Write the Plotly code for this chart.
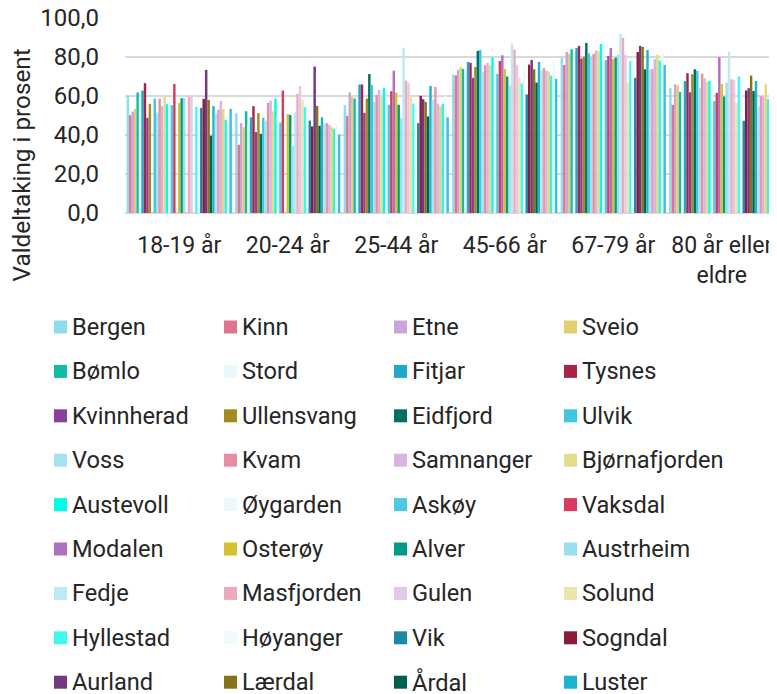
import plotly.graph_objects as go

categories = ["18-19 år", "20-24 år", "25-44 år", "45-66 år", "67-79 år", "80 år eller<br>eldre"]

municipalities = [
    "Bergen", "Kinn", "Etne", "Sveio", "Bømlo", "Stord", "Fitjar", "Tysnes",
    "Kvinnherad", "Ullensvang", "Eidfjord", "Ulvik", "Voss", "Kvam", "Samnanger",
    "Bjørnafjorden", "Austevoll", "Øygarden", "Askøy", "Vaksdal", "Modalen",
    "Osterøy", "Alver", "Austrheim", "Fedje", "Masfjorden", "Gulen", "Solund",
    "Hyllestad", "Høyanger", "Vik", "Sogndal", "Aurland", "Lærdal", "Årdal",
    "Luster", "Askvoll", "Fjaler", "Sunnfjord", "Bremanger", "Stad", "Gloppen", "Stryn",
]

colors = [
    "#8ddbeb", "#e07590", "#cba4d8", "#e0d070", "#12bba8", "#e8f8fb", "#1fa8c9", "#a82447",
    "#8a3f9a", "#a08c20", "#007060", "#42c6e0", "#a3e3ef", "#e88ea2", "#d8b4de",
    "#e4dc8c", "#00fde6", "#eef8fc", "#4fc8e4", "#d83b60", "#b070c0",
    "#d4c030", "#009a88", "#98e0ec", "#bbe9f4", "#eeaabb", "#e2c9e6", "#ece4a8",
    "#40f8ec", "#f0f9fc", "#1e88a8", "#8a1c3a", "#743880", "#857418", "#006050",
    "#1eb4d0", "#b0e6f0", "#e898ac", "#d6b6e0", "#e6d680", "#30f4e4", "#eef8fa", "#38c0e0",
]

v_18_19 = [60.1, 50.2, 52.0, 53.4, 61.8, 58.0, 62.8, 66.6, 48.8, 56.0, None, 58.7, 51.5, 58.7, 54.9,
           59.7, 55.8, 57.0, 55.3, 66.2, None, 56.5, 58.9, 58.9, None, 59.7, 59.7, None,
           54.4, 54.0, 53.9, 58.5, 73.4, 58.0, 39.6, 54.8, 51.2, 52.9, 57.5, 53.4, 47.8, 50.0, 53.4]
v_20_24 = [51.2, 35.0, 46.1, 44.0, 52.2, 45.0, 49.1, 54.8, 41.5, 51.2, 40.6, 48.8, 47.3, 56.5, 57.7,
           52.2, 58.5, 50.0, 46.4, 62.8, None, 50.7, 50.3, 34.5, 51.7, 61.1, 65.2, 58.2,
           54.3, 50.0, 47.4, 44.4, 75.1, 54.9, 44.7, 49.1, 46.0, 46.1, 45.2, 44.0, 43.2, 45.6, 40.1]
v_25_44 = [55.3, 49.8, 61.9, 59.4, 58.7, 58.0, 65.9, 65.9, 51.4, 58.7, 71.3, 65.7, 57.0, 60.6, 63.1,
           59.2, 64.0, 60.0, 55.5, 62.5, 73.0, 61.8, 55.5, 48.6, 84.8, 67.9, 66.6, 60.1,
           56.1, 58.4, 46.1, 60.1, 58.4, 57.0, 49.5, 65.2, 58.0, 64.7, 56.1, 54.8, 56.0, 60.4, 49.1]
v_45_66 = [71.0, 70.6, 73.4, 74.9, 73.9, 74.0, 77.5, 77.0, 69.3, 74.9, 83.1, 83.6, 72.2, 75.8, 77.0,
           75.8, 79.7, 75.0, 71.3, 78.0, 80.9, 73.9, 70.0, 65.4, 86.9, 83.8, 75.9, 69.3,
           66.4, 75.9, 60.8, 76.1, 78.5, 73.7, 66.9, 77.5, 73.0, 74.4, 72.9, 72.5, 70.5, 78.5, 68.8]
v_67_79 = [79.7, 75.9, 82.6, 81.7, 84.0, 82.0, 84.6, 85.7, 79.2, 80.2, 87.2, 81.9, 80.2, 81.6, 83.3,
           82.9, 86.7, 82.0, 78.5, 80.5, 84.6, 79.0, 79.7, 81.1, 91.8, 89.8, 81.1, 66.9,
           77.8, 80.0, 69.3, 82.6, 85.7, 85.2, 73.7, 83.6, 73.7, 73.9, 79.0, 81.1, 78.2, 81.9, 75.9]
v_80_plus = [64.0, 55.5, 66.0, 65.4, 62.1, 66.9, 67.7, 71.7, 61.9, 71.2, 73.7, 72.9, 64.2, 71.5, 69.1,
             67.2, 67.7, 66.0, 57.5, 61.6, 79.9, 66.2, 59.7, 66.7, 82.8, 68.6, 68.1, 56.5,
             70.0, 63.8, 47.3, 62.8, 64.0, 70.5, 62.6, 67.7, 54.6, 59.9, 59.7, 66.2, 58.5, 65.5, 62.8]

y_ticks = [0, 20, 40, 60, 80, 100]
y_title = "Valdeltaking i prosent"

groups = [v_18_19, v_20_24, v_25_44, v_45_66, v_67_79, v_80_plus]

FONT = "Roboto, 'Noto Sans', sans-serif"
TXT = "#262626"
# the page adds an 8px body margin, so the figure is sized/offset to compensate
W, H = 769, 686
ML, MR, MT, MB = 117, 1, 10, 481
PW = W - ML - MR
PH = H - MT - MB


def px_x(x):
    return (x - ML) / PW


def px_y(y):
    return (MT + PH - y) / PH


fig = go.Figure()
for i, name in enumerate(municipalities):
    fig.add_trace(go.Bar(
        x=categories,
        y=[g[i] for g in groups],
        name=name,
        marker=dict(color=colors[i], line=dict(width=0)),
        showlegend=False,
    ))

# legend drawn below the plot (4 columns, clipped like the reference after 9 rows)
n_cols, n_rows = 4, 9
shapes, annotations = [], []
for k in range(min(len(municipalities), n_cols * n_rows)):
    r, c = divmod(k, n_cols)
    cy = 319 + 44.4 * r
    sx = 46 + 170 * c
    shapes.append(dict(type="rect", xref="paper", yref="paper",
                       x0=px_x(sx), x1=px_x(sx + 13), y0=px_y(cy + 6.5), y1=px_y(cy - 6.5),
                       fillcolor=colors[k], line=dict(width=0), layer="above"))
    annotations.append(dict(xref="paper", yref="paper", x=px_x(sx + 16), y=px_y(cy),
                            text=municipalities[k], showarrow=False,
                            xanchor="left", yanchor="middle",
                            font=dict(family=FONT, size=23.6, color=TXT)))

# y-axis title (placed like the reference, lower than the plot middle)
annotations.append(dict(xref="paper", yref="paper", x=px_x(13), y=px_y(276),
                        text=y_title, textangle=-90, showarrow=False,
                        xanchor="center", yanchor="bottom",
                        font=dict(family=FONT, size=24.3, color=TXT)))

fig.update_layout(
    width=W, height=H,
    margin=dict(l=ML, r=MR, t=MT, b=MB, autoexpand=False),
    paper_bgcolor="white", plot_bgcolor="white",
    barmode="group", bargap=0.03, bargroupgap=0,
    separators=", ",
    font=dict(family=FONT, color=TXT),
    showlegend=False,
    shapes=shapes,
    annotations=annotations,
)
fig.update_yaxes(
    range=[0, 100], tickvals=y_ticks, tickformat=".1f",
    showgrid=True, gridcolor="#d9d9d9", gridwidth=2,
    zeroline=True, zerolinecolor="#d9d9d9", zerolinewidth=2,
    showline=False, ticks="", ticklabelstandoff=25,
    ticklabeloverflow="allow",
    tickfont=dict(family=FONT, size=24, color=TXT),
    automargin=False,
)
fig.update_xaxes(
    showline=False, ticks="", showgrid=False,
    tickfont=dict(family=FONT, size=23, color=TXT),
    ticklabelstandoff=16,
    ticklabeloverflow="allow",
    automargin=False,
)

fig.write_html("out.html")
